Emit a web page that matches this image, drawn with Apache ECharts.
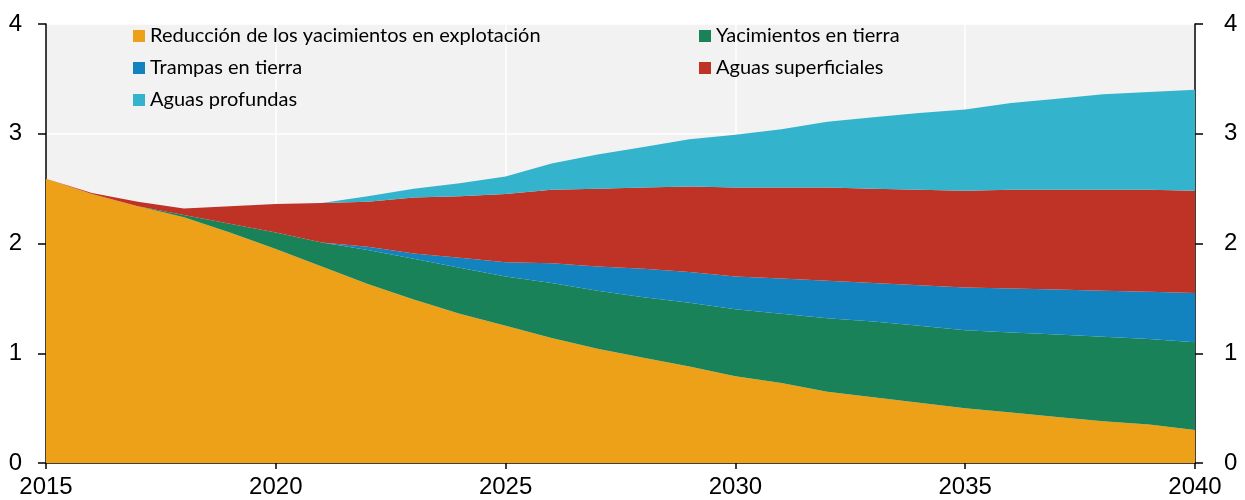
<!DOCTYPE html>
<html>
<head>
<meta charset="utf-8">
<script src="https://cdn.jsdelivr.net/npm/echarts@6/dist/echarts.min.js"></script>
<style>
  html, body { margin: 0; padding: 0; background: #fff; }
  #chart { width: 1245px; height: 500px; }
</style>
</head>
<body>
<div id="chart"></div>
<script>
// años 2015-2040
const years = ['2015', '2016', '2017', '2018', '2019', '2020', '2021', '2022', '2023', '2024', '2025',
  '2026', '2027', '2028', '2029', '2030', '2031', '2032', '2033', '2034', '2035', '2036', '2037',
  '2038', '2039', '2040'];

// valores (apilados)
const reduccion = [2.59, 2.45, 2.34, 2.24, 2.10, 1.95, 1.79, 1.63, 1.49, 1.36, 1.25, 1.14, 1.04,
  0.96, 0.88, 0.79, 0.73, 0.65, 0.60, 0.55, 0.50, 0.46, 0.42, 0.38, 0.35, 0.30];
const yacTierra = [0, 0, 0, 0.02, 0.08, 0.15, 0.22, 0.31, 0.37, 0.42, 0.45, 0.50, 0.53,
  0.55, 0.58, 0.61, 0.63, 0.67, 0.69, 0.70, 0.71, 0.73, 0.75, 0.77, 0.78, 0.80];
const trampas = [0, 0, 0, 0, 0, 0, 0, 0.03, 0.05, 0.09, 0.13, 0.18, 0.22,
  0.26, 0.28, 0.30, 0.32, 0.34, 0.35, 0.37, 0.39, 0.40, 0.41, 0.42, 0.43, 0.45];
const superficiales = [0, 0.01, 0.04, 0.06, 0.16, 0.26, 0.36, 0.41, 0.51, 0.56, 0.62, 0.67, 0.71,
  0.74, 0.78, 0.81, 0.83, 0.85, 0.86, 0.87, 0.88, 0.90, 0.91, 0.92, 0.93, 0.93];
const profundas = [0, 0, 0, 0, 0, 0, 0, 0.05, 0.08, 0.12, 0.16, 0.24, 0.31,
  0.37, 0.43, 0.48, 0.53, 0.60, 0.65, 0.70, 0.74, 0.79, 0.83, 0.87, 0.89, 0.92];

const names = ['Reducción de los yacimientos en explotación', 'Yacimientos en tierra',
  'Trampas en tierra', 'Aguas superficiales', 'Aguas profundas'];
const colors = ['#EDA119', '#1A8259', '#1283BF', '#BF3327', '#33B4CC'];
const seriesData = [reduccion, yacTierra, trampas, superficiales, profundas];

const chart = echarts.init(document.getElementById('chart'));

const axisFont = '"Liberation Sans", Arial, sans-serif';
const legendText = {
  fontFamily: 'Lato, Calibri, sans-serif',
  fontSize: 20,
  lineHeight: 20,
  color: '#000'
};

const yAxisBase = {
  type: 'value',
  min: 0,
  max: 4,
  interval: 1,
  axisLine: { show: true, lineStyle: { color: '#000', width: 1.5 } },
  axisTick: { show: true, length: 8, lineStyle: { color: '#000', width: 1.5 } },
  splitLine: { show: true, lineStyle: { color: '#fff', width: 1.5 } },
  axisLabel: { fontFamily: axisFont, fontSize: 24, color: '#000', margin: 24 }
};

chart.setOption({
  animation: false,
  backgroundColor: '#fff',
  color: colors,
  grid: {
    left: 46,
    right: 50,
    top: 24,
    bottom: 37,
    show: true,
    backgroundColor: '#f2f2f2',
    borderWidth: 0
  },
  legend: [
    {
      data: [names[0], names[2], names[4]],
      orient: 'vertical',
      left: 128,
      top: 21,
      itemWidth: 12,
      itemHeight: 12,
      itemGap: 12,
      icon: 'rect',
      textStyle: legendText
    },
    {
      data: [names[1], names[3]],
      orient: 'vertical',
      left: 694,
      top: 21,
      itemWidth: 12,
      itemHeight: 12,
      itemGap: 12,
      icon: 'rect',
      textStyle: legendText
    }
  ],
  xAxis: {
    type: 'category',
    boundaryGap: false,
    data: years,
    axisLine: { show: true, onZero: false, lineStyle: { color: '#000', width: 1.5 } },
    axisTick: { show: true, length: 6, interval: 4, lineStyle: { color: '#000', width: 1.5 } },
    splitLine: { show: true, interval: 4, lineStyle: { color: '#fff', width: 1.5 } },
    axisLabel: { fontFamily: axisFont, fontSize: 24, color: '#000', margin: 12, interval: 4 }
  },
  yAxis: [
    Object.assign({}, yAxisBase, { position: 'left' }),
    Object.assign({}, yAxisBase, {
      position: 'right',
      splitLine: { show: false },
      axisLabel: { fontFamily: axisFont, fontSize: 24, color: '#000', margin: 29 }
    })
  ],
  series: seriesData.map((vals, i) => ({
    name: names[i],
    type: 'line',
    stack: 'total',
    symbol: 'none',
    lineStyle: { width: 0 },
    areaStyle: { color: colors[i], opacity: 1 },
    itemStyle: { color: colors[i] },
    data: vals
  }))
});
</script>
</body>
</html>
